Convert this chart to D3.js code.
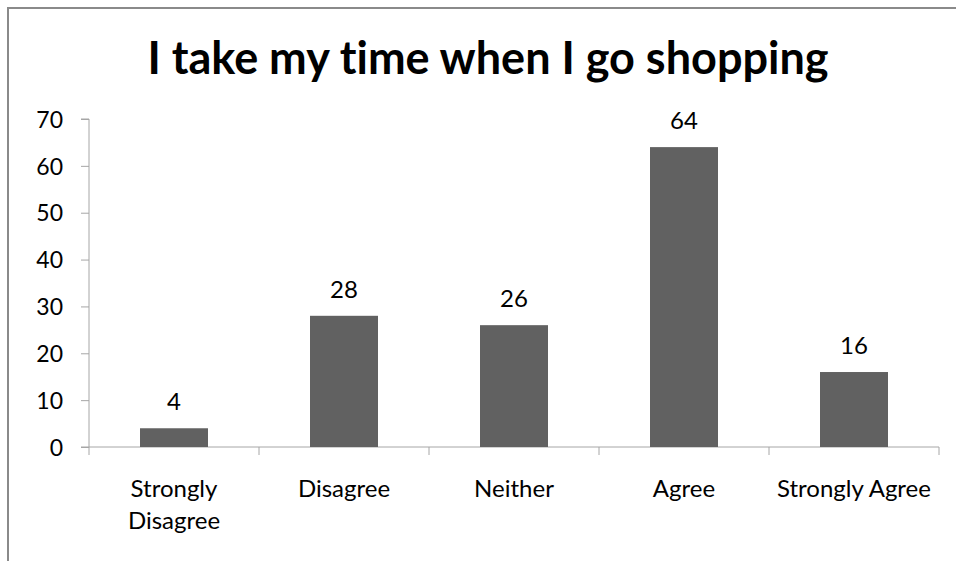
<!DOCTYPE html>
<html>
<head>
<meta charset="utf-8">
<script src="https://cdn.jsdelivr.net/npm/d3@7"></script>
<style>
  html, body { margin: 0; padding: 0; background: #fff; }
  svg { display: block; }
  text { font-family: Lato, "Open Sans", sans-serif; fill: #000; font-variant-ligatures: none; }
</style>
</head>
<body>
<svg id="chart" width="956" height="561"></svg>
<script>
// Survey responses: "I take my time when I go shopping"
const titleText = "I take my time when I go shopping";
const categories = ["Strongly Disagree", "Disagree", "Neither", "Agree", "Strongly Agree"];
const categoryLines = [["Strongly", "Disagree"], ["Disagree"], ["Neither"], ["Agree"], ["Strongly Agree"]];
const counts = [4, 28, 26, 64, 16];
const yTicks = [0, 10, 20, 30, 40, 50, 60, 70];

const svg = d3.select("#chart");

// outer frame (right and bottom edges run past the view)
svg.append("rect")
  .attr("x", 8).attr("y", 8)
  .attr("width", 1000).attr("height", 600)
  .attr("fill", "#fff")
  .attr("stroke", "#8a8a8a")
  .attr("stroke-width", 2);

const plot = { left: 89, right: 939, top: 119, bottom: 447 };

const x = d3.scaleBand()
  .domain(categories)
  .range([plot.left, plot.right])
  .paddingInner(0.6)
  .paddingOuter(0.3);

const y = d3.scaleLinear()
  .domain([0, 70])
  .range([plot.bottom, plot.top]);

// title
svg.append("text")
  .attr("x", 488)
  .attr("y", 74)
  .attr("text-anchor", "middle")
  .style("font-weight", "bold")
  .style("font-size", "45px")
  .text(titleText);

// y axis
const yAxis = d3.axisLeft(y).tickValues(yTicks).tickSize(8).tickPadding(18);
const gy = svg.append("g")
  .attr("transform", `translate(${plot.left},0)`)
  .call(yAxis);
gy.select(".domain").attr("stroke", "#a6a6a6").attr("d", `M-8,${plot.top}H0V${plot.bottom}`);
gy.selectAll(".tick line").attr("stroke", "#a6a6a6");
gy.selectAll(".tick text")
  .style("font-size", "23px")
  .attr("dy", "0.36em")
  .attr("fill", "#000");

// x axis line with ticks at category boundaries
const step = x.step();
const boundaries = d3.range(categories.length + 1).map(i => plot.left + i * step);
svg.append("line")
  .attr("x1", plot.left - 8).attr("x2", plot.right)
  .attr("y1", plot.bottom).attr("y2", plot.bottom)
  .attr("stroke", "#a6a6a6");
svg.selectAll(".xtick")
  .data(boundaries)
  .join("line")
  .attr("class", "xtick")
  .attr("x1", d => d).attr("x2", d => d)
  .attr("y1", plot.bottom).attr("y2", plot.bottom + 8)
  .attr("stroke", "#a6a6a6");

// bars
svg.selectAll(".bar")
  .data(categories)
  .join("rect")
  .attr("class", "bar")
  .attr("x", d => x(d))
  .attr("width", x.bandwidth())
  .attr("y", (d, i) => y(counts[i]))
  .attr("height", (d, i) => y(0) - y(counts[i]))
  .attr("fill", "#616161");

// value labels
svg.selectAll(".val")
  .data(categories)
  .join("text")
  .attr("class", "val")
  .attr("x", d => x(d) + x.bandwidth() / 2)
  .attr("y", (d, i) => y(counts[i]) - 18)
  .attr("text-anchor", "middle")
  .style("font-size", "24px")
  .text((d, i) => counts[i]);

// category labels
const cat = svg.selectAll(".cat")
  .data(categories)
  .join("text")
  .attr("class", "cat")
  .attr("x", d => x(d) + x.bandwidth() / 2)
  .attr("y", 497)
  .attr("text-anchor", "middle")
  .style("font-size", "24px");
cat.each(function(d, i) {
  const t = d3.select(this);
  categoryLines[i].forEach((line, j) => {
    t.append("tspan")
      .attr("x", x(d) + x.bandwidth() / 2)
      .attr("dy", j === 0 ? 0 : 32)
      .text(line);
  });
});
</script>
</body>
</html>
